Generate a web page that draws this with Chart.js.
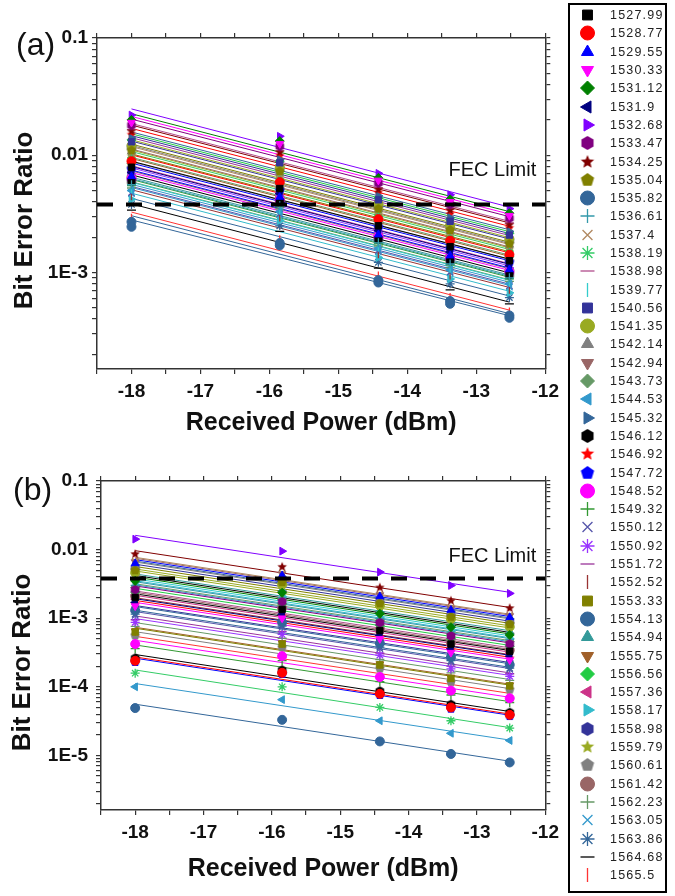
<!DOCTYPE html>
<html>
<head>
<meta charset="utf-8">
<script src="https://cdn.jsdelivr.net/npm/chart.js@4.4.1/dist/chart.umd.min.js"></script>
<style>
  html, body { margin: 0; padding: 0; background: #fff; }
  #wrap { position: relative; width: 675px; height: 896px; overflow: hidden; }
  #chartA { position: absolute; left: 0; top: 0; }
  #chartB { position: absolute; left: 0; top: 445px; }
  #legend {
    position: absolute; left: 568px; top: 3px; width: 99px; height: 890px;
    border: 2.5px solid #000; box-sizing: border-box; padding-top: 1px;
    font-family: "Liberation Sans", Arial, sans-serif; font-size: 12.5px;
    letter-spacing: 1.2px; color: #222;
  }
  .row { display: flex; align-items: center; height: 18.3px; white-space: nowrap; }
  .row canvas { width: 38px; height: 18px; flex: none; }
</style>
</head>
<body>
<div id="wrap">
  <canvas id="chartA" width="565" height="445"></canvas>
  <canvas id="chartB" width="565" height="451"></canvas>
  <div id="legend"></div>
</div>
<script>
// wavelengths (nm), one series per channel
var wavelengths = ['1527.99','1528.77','1529.55','1530.33','1531.12','1531.9','1532.68','1533.47',
  '1534.25','1535.04','1535.82','1536.61','1537.4','1538.19','1538.98','1539.77',
  '1540.56','1541.35','1542.14','1542.94','1543.73','1544.53','1545.32','1546.12',
  '1546.92','1547.72','1548.52','1549.32','1550.12','1550.92','1551.72','1552.52',
  '1553.33','1554.13','1554.94','1555.75','1556.56','1557.36','1558.17','1558.98',
  '1559.79','1560.61','1561.42','1562.23','1563.05','1563.86','1564.68','1565.5'];

// received power (dBm) of the measured points
var powerA = [-18, -15.85, -14.42, -13.38, -12.52];
var powerB = [-18, -15.85, -14.42, -13.38, -12.52];

// (a) bit error ratio per channel
var berA = [
  [7.9e-3, 5.2e-3, 2.5e-3, 1.66e-3, 1.26e-3],
  [8.9e-3, 5.9e-3, 2.85e-3, 1.87e-3, 1.42e-3],
  [6.6e-3, 4.4e-3, 2.1e-3, 1.39e-3, 1.06e-3],
  [1.9e-2, 1.25e-2, 6.1e-3, 4.0e-3, 3.05e-3],
  [2.0e-2, 1.32e-2, 6.4e-3, 4.2e-3, 3.2e-3],
  [7.1e-3, 4.7e-3, 2.27e-3, 1.49e-3, 1.14e-3],
  [2.2e-2, 1.45e-2, 7.0e-3, 4.6e-3, 3.5e-3],
  [1.8e-2, 1.19e-2, 5.8e-3, 3.8e-3, 2.9e-3],
  [1.6e-2, 1.06e-2, 5.1e-3, 3.4e-3, 2.55e-3],
  [1.1e-2, 7.3e-3, 3.5e-3, 2.3e-3, 1.76e-3],
  [2.45e-3, 1.7e-3, 8.2e-4, 5.4e-4, 4.1e-4],
  [5.6e-3, 3.7e-3, 1.79e-3, 1.18e-3, 9.0e-4],
  [1.05e-2, 6.9e-3, 3.36e-3, 2.2e-3, 1.68e-3],
  [9.5e-3, 6.3e-3, 3.04e-3, 2.0e-3, 1.52e-3],
  [1.65e-2, 1.09e-2, 5.3e-3, 3.47e-3, 2.64e-3],
  [5.2e-3, 3.43e-3, 1.66e-3, 1.09e-3, 8.3e-4],
  [1.3e-2, 8.6e-3, 4.16e-3, 2.73e-3, 2.08e-3],
  [1.2e-2, 7.9e-3, 3.84e-3, 2.52e-3, 1.92e-3],
  [1.07e-2, 7.1e-3, 3.42e-3, 2.25e-3, 1.71e-3],
  [1.0e-2, 6.6e-3, 3.2e-3, 2.1e-3, 1.6e-3],
  [8.5e-3, 5.6e-3, 2.72e-3, 1.79e-3, 1.36e-3],
  [5.0e-3, 3.3e-3, 1.6e-3, 1.05e-3, 8.0e-4],
  [1.4e-2, 9.2e-3, 4.5e-3, 2.94e-3, 2.24e-3],
  [6.0e-3, 4.0e-3, 1.92e-3, 1.26e-3, 9.6e-4],
  [1.5e-2, 9.9e-3, 4.8e-3, 3.15e-3, 2.4e-3],
  [7.6e-3, 5.0e-3, 2.43e-3, 1.6e-3, 1.22e-3],
  [6.3e-3, 4.16e-3, 2.02e-3, 1.32e-3, 1.01e-3],
  [5.5e-3, 3.63e-3, 1.76e-3, 1.16e-3, 8.8e-4],
  [4.8e-3, 3.17e-3, 1.54e-3, 1.01e-3, 7.7e-4],
  [6.9e-3, 4.55e-3, 2.2e-3, 1.45e-3, 1.1e-3],
  [1.25e-2, 8.25e-3, 4.0e-3, 2.63e-3, 2.0e-3],
  [4.5e-3, 2.97e-3, 1.44e-3, 9.5e-4, 7.2e-4],
  [9.1e-3, 6.0e-3, 2.91e-3, 1.91e-3, 1.46e-3],
  [2.7e-3, 1.78e-3, 8.6e-4, 5.7e-4, 4.3e-4],
  [5.75e-3, 3.8e-3, 1.84e-3, 1.21e-3, 9.2e-4],
  [8.3e-3, 5.5e-3, 2.66e-3, 1.74e-3, 1.33e-3],
  [1.35e-2, 8.9e-3, 4.3e-3, 2.84e-3, 2.16e-3],
  [7.2e-3, 4.75e-3, 2.3e-3, 1.51e-3, 1.15e-3],
  [4.2e-3, 2.77e-3, 1.34e-3, 8.8e-4, 6.7e-4],
  [1.17e-2, 7.7e-3, 3.74e-3, 2.46e-3, 1.87e-3],
  [9.8e-3, 6.5e-3, 3.14e-3, 2.06e-3, 1.57e-3],
  [7.8e-3, 5.15e-3, 2.5e-3, 1.64e-3, 1.25e-3],
  [6.5e-3, 4.3e-3, 2.08e-3, 1.37e-3, 1.04e-3],
  [5.25e-3, 3.47e-3, 1.68e-3, 1.1e-3, 8.4e-4],
  [4.7e-3, 3.1e-3, 1.5e-3, 9.9e-4, 7.5e-4],
  [3.8e-3, 2.5e-3, 1.22e-3, 8.0e-4, 6.1e-4],
  [3.4e-3, 2.24e-3, 1.09e-3, 7.1e-4, 5.4e-4],
  [2.9e-3, 1.9e-3, 9.3e-4, 6.1e-4, 4.6e-4]
];

// (b) bit error ratio per channel
var berB = [
  [2.0e-3, 1.34e-3, 6.6e-4, 4.2e-4, 3.3e-4],
  [2.4e-4, 1.6e-4, 7.9e-5, 5.0e-5, 3.9e-5],
  [6.3e-3, 4.2e-3, 2.08e-3, 1.32e-3, 1.03e-3],
  [1.5e-3, 1.0e-3, 5.0e-4, 3.15e-4, 2.45e-4],
  [3.5e-3, 2.35e-3, 1.16e-3, 7.4e-4, 5.7e-4],
  [1.7e-3, 1.14e-3, 5.6e-4, 3.6e-4, 2.8e-4],
  [1.42e-2, 9.5e-3, 4.7e-3, 3.0e-3, 2.3e-3],
  [2.6e-3, 1.74e-3, 8.6e-4, 5.5e-4, 4.2e-4],
  [8.6e-3, 5.6e-3, 2.8e-3, 1.8e-3, 1.4e-3],
  [5.0e-3, 3.35e-3, 1.65e-3, 1.05e-3, 8.2e-4],
  [1.3e-3, 8.7e-4, 4.3e-4, 2.7e-4, 2.1e-4],
  [3.0e-3, 2.0e-3, 9.9e-4, 6.3e-4, 4.9e-4],
  [6.8e-3, 4.55e-3, 2.25e-3, 1.43e-3, 1.11e-3],
  [1.58e-4, 1.0e-4, 5.0e-5, 3.2e-5, 2.5e-5],
  [2.2e-3, 1.47e-3, 7.3e-4, 4.6e-4, 3.6e-4],
  [3.3e-3, 2.2e-3, 1.09e-3, 6.9e-4, 5.4e-4],
  [1.35e-3, 9.0e-4, 4.5e-4, 2.8e-4, 2.2e-4],
  [4.6e-3, 3.08e-3, 1.52e-3, 9.7e-4, 7.5e-4],
  [5.8e-3, 3.9e-3, 1.91e-3, 1.22e-3, 9.5e-4],
  [6.6e-3, 4.4e-3, 2.18e-3, 1.39e-3, 1.08e-3],
  [2.8e-3, 1.88e-3, 9.2e-4, 5.9e-4, 4.6e-4],
  [1.0e-4, 6.5e-5, 3.2e-5, 2.1e-5, 1.65e-5],
  [6.0e-3, 4.0e-3, 1.98e-3, 1.26e-3, 9.8e-4],
  [2.6e-4, 1.74e-4, 8.6e-5, 5.5e-5, 4.2e-5],
  [1.6e-3, 1.07e-3, 5.3e-4, 3.4e-4, 2.6e-4],
  [2.3e-4, 1.54e-4, 7.6e-5, 4.8e-5, 3.75e-5],
  [4.2e-4, 2.8e-4, 1.39e-4, 8.8e-5, 6.8e-5],
  [3.6e-4, 2.4e-4, 1.19e-4, 7.6e-5, 5.9e-5],
  [1.1e-3, 7.4e-4, 3.6e-4, 2.3e-4, 1.8e-4],
  [8.7e-4, 5.8e-4, 2.9e-4, 1.83e-4, 1.42e-4],
  [9.5e-4, 6.4e-4, 3.1e-4, 2.0e-4, 1.55e-4],
  [1.75e-3, 1.17e-3, 5.8e-4, 3.7e-4, 2.85e-4],
  [6.3e-4, 4.2e-4, 2.08e-4, 1.32e-4, 1.03e-4],
  [4.9e-5, 3.3e-5, 1.6e-5, 1.05e-5, 7.9e-6],
  [3.9e-3, 2.6e-3, 1.29e-3, 8.2e-4, 6.4e-4],
  [6.5e-4, 4.35e-4, 2.15e-4, 1.37e-4, 1.06e-4],
  [2.4e-3, 1.61e-3, 7.9e-4, 5.0e-4, 3.9e-4],
  [1.9e-3, 1.27e-3, 6.3e-4, 4.0e-4, 3.1e-4],
  [3.1e-3, 2.08e-3, 1.02e-3, 6.5e-4, 5.05e-4],
  [5.4e-3, 3.6e-3, 1.78e-3, 1.13e-3, 8.8e-4],
  [4.3e-3, 2.88e-3, 1.42e-3, 9.0e-4, 7.0e-4],
  [5.6e-4, 3.75e-4, 1.85e-4, 1.18e-4, 9.1e-5],
  [2.1e-3, 1.41e-3, 6.9e-4, 4.4e-4, 3.4e-4],
  [7.6e-4, 5.1e-4, 2.5e-4, 1.6e-4, 1.24e-4],
  [2.7e-3, 1.81e-3, 8.9e-4, 5.7e-4, 4.4e-4],
  [1.15e-3, 7.7e-4, 3.8e-4, 2.4e-4, 1.87e-4],
  [3.7e-3, 2.48e-3, 1.22e-3, 7.8e-4, 6.0e-4],
  [4.8e-4, 3.2e-4, 1.58e-4, 1.0e-4, 7.8e-5]
];

var FEC_LIMIT = 3.8e-3;

// axis ranges and tick labels
var xMin = -18.5, xMax = -12;
var xTickLabels = ['-18', '-17', '-16', '-15', '-14', '-13', '-12'];
var yRangeA = [1.5e-4, 0.1];
var yRangeB = [1.6e-6, 0.1];
var yDecadesA = [1e-4, 1e-3, 1e-2, 1e-1];
var yDecadesB = [1e-6, 1e-5, 1e-4, 1e-3, 1e-2, 1e-1];
var yTickLabels = { '1e-1': '0.1', '1e-2': '0.01', '1e-3': '1E-3', '1e-4': '1E-4', '1e-5': '1E-5' };

// Origin-like colours and symbols
var colors = ['#000000','#FF0000','#0000FF','#FF00FF','#008000','#000080','#8000FF','#800080',
  '#800000','#808000','#336699','#3399AA','#B08860','#33CC66','#B04C8C','#33CCCC',
  '#333399','#99AA22','#808080','#996666','#669966','#3399CC','#336699','#000000',
  '#FF0000','#0000FF','#FF00FF','#339933','#5555AA','#9933FF','#993399','#993333',
  '#808000','#336699','#339999','#A0602A','#22CC44','#CC3388','#33BBCC','#333399',
  '#99AA22','#808080','#996666','#669966','#3399CC','#336699','#000000','#FF3333'];
var symbols = [
  { style: 'rect' }, { style: 'circle' }, { style: 'triangle' }, { style: 'triangle', rot: 180 },
  { style: 'rectRot' }, { style: 'triangle', rot: -90 }, { style: 'triangle', rot: 90 }, { shape: 'hexagon' },
  { shape: 'star5' }, { shape: 'pentagon' }, { style: 'circle' }, { style: 'cross', open: true },
  { style: 'crossRot', open: true }, { style: 'star', open: true }, { style: 'line', open: true }, { style: 'line', rot: 90, open: true }
];

var FONT = '"Liberation Sans", Arial, Helvetica, sans-serif';

function makeShape(kind, color, r) {
  var size = Math.ceil(2 * r + 2);
  var c = document.createElement('canvas');
  c.width = size; c.height = size;
  var g = c.getContext('2d');
  var cx = size / 2, cy = size / 2;
  g.fillStyle = color;
  g.beginPath();
  if (kind == 'hexagon') {
    for (var i = 0; i < 6; i++) {
      var a = Math.PI / 6 + i * Math.PI / 3;
      g.lineTo(cx + r * Math.cos(a), cy + r * Math.sin(a));
    }
  } else if (kind == 'pentagon') {
    for (var i = 0; i < 5; i++) {
      var a = -Math.PI / 2 + i * 2 * Math.PI / 5;
      g.lineTo(cx + r * Math.cos(a), cy + r * Math.sin(a));
    }
  } else {
    for (var i = 0; i < 10; i++) {
      var a = -Math.PI / 2 + i * Math.PI / 5;
      var rr = i % 2 ? r * 0.45 : r;
      g.lineTo(cx + rr * Math.cos(a), cy + rr * Math.sin(a));
    }
  }
  g.closePath();
  g.fill();
  return c;
}

function pointStyleFor(i, r) {
  var s = symbols[i % symbols.length];
  if (s.shape) return makeShape(s.shape, colors[i], r + 0.5);
  return s.style;
}

function logTicks(decades, range) {
  var out = [];
  decades.forEach(function (d) {
    for (var k = 1; k < 10; k++) {
      var v = +(d * k).toPrecision(3);
      if (v >= range[0] * 0.999 && v <= range[1] * 1.001) out.push({ value: v });
    }
  });
  return out;
}

function yLabel(v) {
  var key = Number(v).toExponential(0).replace('+', '');
  return yTickLabels[key] || '';
}

// straight line fitted to log10(BER) vs power, as in the original plot
function fitLine(xs, ys) {
  var n = xs.length, mx = 0, my = 0, sxy = 0, sxx = 0;
  for (var i = 0; i < n; i++) { mx += xs[i] / n; my += Math.log10(ys[i]) / n; }
  for (var i = 0; i < n; i++) {
    sxy += (xs[i] - mx) * (Math.log10(ys[i]) - my);
    sxx += (xs[i] - mx) * (xs[i] - mx);
  }
  var b = sxy / sxx;
  var at = function (x) { return Math.pow(10, my + b * (x - mx)); };
  return [{ x: xs[0], y: at(xs[0]) }, { x: xs[n - 1], y: at(xs[n - 1]) }];
}

// text that Chart.js has no slot for: panel tag, FEC label, rotated y title
var panelText = {
  id: 'panelText',
  afterDraw: function (chart, args, opts) {
    var ctx = chart.ctx, area = chart.chartArea;
    ctx.save();
    ctx.fillStyle = '#111';
    ctx.textBaseline = 'middle';
    ctx.textAlign = 'left';
    ctx.font = '32px ' + FONT;
    ctx.fillText(opts.tag, opts.tagX, 46);

    ctx.font = '20px ' + FONT;
    ctx.textAlign = 'right';
    ctx.fillText('FEC Limit', area.right - 9, chart.scales.y.getPixelForValue(FEC_LIMIT) - opts.fecGap);

    ctx.translate(opts.titleX, (area.top + area.bottom) / 2 + 17);
    ctx.rotate(-Math.PI / 2);
    ctx.textAlign = 'center';
    ctx.font = 'bold 26px ' + FONT;
    ctx.fillText('Bit Error Ratio', 0, 0);
    ctx.restore();
  }
};

function buildChart(canvasId, power, ber, yRange, yDecades, dims) {
  var datasets = [{
    label: 'FEC Limit',
    data: [{ x: xMin, y: FEC_LIMIT }, { x: xMax, y: FEC_LIMIT }],
    showLine: true,
    borderColor: '#000',
    borderWidth: 4,
    borderDash: [16, 13],
    pointRadius: 0,
    xAxisID: 'x', yAxisID: 'y'
  }];

  // measured points
  for (var i = 0; i < ber.length; i++) {
    var sym = symbols[i % symbols.length];
    var pts = [];
    for (var j = 0; j < power.length; j++) pts.push({ x: power[j], y: ber[i][j] });
    datasets.push({
      label: wavelengths[i],
      data: pts,
      showLine: false,
      borderColor: colors[i],
      backgroundColor: colors[i],
      pointStyle: pointStyleFor(i, 4.5),
      pointRotation: sym.rot || 0,
      pointRadius: 4.5,
      pointBorderWidth: sym.open ? 1.3 : 1,
      pointBackgroundColor: colors[i],
      pointBorderColor: colors[i],
      xAxisID: 'x', yAxisID: 'y'
    });
  }
  // fitted lines (drawn underneath the points)
  for (var i = 0; i < ber.length; i++) {
    datasets.push({
      label: wavelengths[i] + ' fit',
      data: fitLine(power, ber[i]),
      showLine: true,
      borderColor: colors[i],
      borderWidth: 1,
      pointRadius: 0,
      xAxisID: 'x', yAxisID: 'y'
    });
  }

  var axisBorder = { color: '#333', width: 1.5 };
  var tickGrid = { drawOnChartArea: false, drawTicks: true, tickLength: 5, color: '#333', lineWidth: 1.2 };

  return new Chart(document.getElementById(canvasId), {
    type: 'scatter',
    data: { datasets: datasets },
    options: {
      responsive: false,
      animation: false,
      layout: { padding: 0, autoPadding: false },
      plugins: {
        legend: { display: false },
        tooltip: { enabled: false },
        panelText: { tag: dims.tag, tagX: dims.tagX, fecGap: dims.fecGap, titleX: dims.titleX }
      },
      scales: {
        x: {
          type: 'linear', position: 'bottom', min: xMin, max: xMax,
          ticks: {
            stepSize: 0.5, autoSkip: false, maxRotation: 0, padding: 6, color: '#111',
            font: { family: FONT, size: 19, weight: 'bold' },
            callback: function (v) {
              var s = String(v);
              return xTickLabels.indexOf(s) >= 0 ? s : '';
            }
          },
          grid: tickGrid,
          border: axisBorder,
          title: {
            display: true, text: 'Received Power (dBm)', color: '#111',
            font: { family: FONT, size: 25, weight: 'bold' },
            padding: { top: 0, bottom: dims.xTitlePad }
          },
          afterFit: function (s) { s.height = dims.bottom; }
        },
        x2: {
          type: 'linear', position: 'top', min: xMin, max: xMax,
          ticks: { stepSize: 0.5, display: false },
          grid: tickGrid,
          border: axisBorder,
          afterFit: function (s) { s.height = dims.top; }
        },
        y: {
          type: 'logarithmic', position: 'left', min: yRange[0], max: yRange[1],
          afterBuildTicks: function (s) { s.ticks = logTicks(yDecades, yRange); },
          ticks: {
            autoSkip: false, padding: dims.yPad, color: '#111',
            font: { family: FONT, size: 19, weight: 'bold' },
            callback: yLabel
          },
          grid: tickGrid,
          border: axisBorder,
          afterFit: function (s) { s.width = dims.left; }
        },
        y2: {
          type: 'logarithmic', position: 'right', min: yRange[0], max: yRange[1],
          afterBuildTicks: function (s) { s.ticks = logTicks(yDecades, yRange); },
          ticks: { display: false },
          grid: tickGrid,
          border: axisBorder,
          afterFit: function (s) { s.width = dims.right; }
        }
      }
    },
    plugins: [panelText]
  });
}

buildChart('chartA', powerA, berA, yRangeA, yDecadesA,
  { tag: '(a)', tagX: 16, fecGap: 34, titleX: 25, left: 97, right: 16, top: 38, bottom: 76, yPad: 4, xTitlePad: 7 });
buildChart('chartB', powerB, berB, yRangeB, yDecadesB,
  { tag: '(b)', tagX: 13, fecGap: 22, titleX: 23, left: 101, right: 13, top: 36, bottom: 86, yPad: 8, xTitlePad: 12 });

// legend box on the right
var legend = document.getElementById('legend');
wavelengths.forEach(function (w, i) {
  var sym = symbols[i % symbols.length];
  var row = document.createElement('div');
  row.className = 'row';
  var c = document.createElement('canvas');
  c.width = 38; c.height = 18;
  var g = c.getContext('2d');
  g.fillStyle = colors[i];
  g.strokeStyle = colors[i];
  g.lineWidth = sym.open ? 1.3 : 1;
  Chart.helpers.drawPoint(g, {
    pointStyle: pointStyleFor(i, 6.5),
    rotation: sym.rot || 0,
    radius: 7,
    borderWidth: sym.open ? 1.3 : 1
  }, 17.5, 9);
  var t = document.createElement('span');
  t.textContent = w;
  t.style.marginLeft = '2px';
  row.appendChild(c);
  row.appendChild(t);
  legend.appendChild(row);
});
</script>
</body>
</html>
